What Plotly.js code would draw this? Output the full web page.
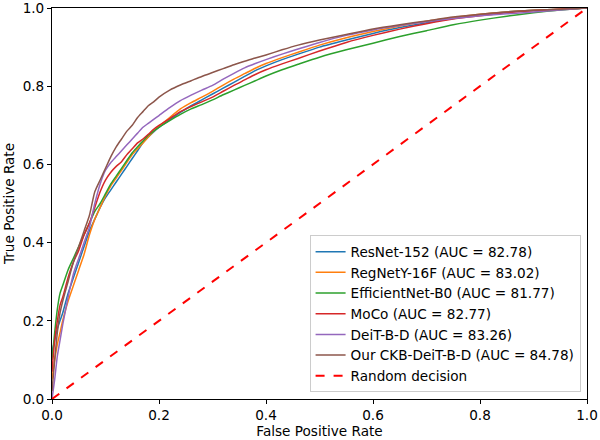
<!DOCTYPE html>
<html>
<head>
<meta charset="utf-8">
<script src="https://cdn.plot.ly/plotly-3.0.1.min.js"></script>
<style>html,body{margin:0;padding:0;background:#fff;}#chart{width:600px;height:440px;}</style>
</head>
<body>
<div id="chart"></div>
<script>
const fpr = [0, 0.005, 0.01, 0.015, 0.02, 0.03, 0.04, 0.05, 0.06, 0.07, 0.08, 0.09, 0.1, 0.11, 0.12, 0.13, 0.14, 0.15, 0.16, 0.17, 0.18, 0.19, 0.2, 0.22, 0.24, 0.26, 0.28, 0.3, 0.32, 0.34, 0.36, 0.38, 0.4, 0.43, 0.46, 0.5, 0.55, 0.6, 0.65, 0.7, 0.75, 0.8, 0.85, 0.9, 0.95, 1.0];

const tprResNet = [0.12, 0.15, 0.18, 0.2, 0.22, 0.27, 0.31, 0.35, 0.39, 0.43, 0.46, 0.49, 0.515, 0.535, 0.555, 0.575, 0.595, 0.615, 0.635, 0.655, 0.67, 0.683, 0.695, 0.714, 0.733, 0.75, 0.765, 0.78, 0.795, 0.81, 0.825, 0.84, 0.852, 0.868, 0.882, 0.9, 0.918, 0.935, 0.95, 0.962, 0.974, 0.983, 0.99, 0.994, 0.997, 1.0];
const tprRegNet = [0.05, 0.1, 0.14, 0.17, 0.2, 0.25, 0.29, 0.33, 0.37, 0.42, 0.46, 0.49, 0.52, 0.545, 0.565, 0.585, 0.605, 0.625, 0.64, 0.655, 0.67, 0.685, 0.697, 0.72, 0.742, 0.758, 0.772, 0.787, 0.803, 0.818, 0.832, 0.846, 0.858, 0.873, 0.887, 0.905, 0.924, 0.94, 0.954, 0.966, 0.976, 0.984, 0.99, 0.994, 0.997, 1.0];
const tprEffNet = [0.1, 0.17, 0.23, 0.27, 0.29, 0.33, 0.36, 0.39, 0.42, 0.45, 0.48, 0.5, 0.525, 0.55, 0.57, 0.59, 0.61, 0.63, 0.645, 0.66, 0.675, 0.685, 0.695, 0.712, 0.728, 0.742, 0.753, 0.765, 0.778, 0.79, 0.802, 0.814, 0.826, 0.842, 0.856, 0.874, 0.893, 0.91, 0.927, 0.942, 0.957, 0.969, 0.979, 0.988, 0.995, 1.0];
const tprMoCo = [0.07, 0.15, 0.2, 0.24, 0.26, 0.31, 0.35, 0.38, 0.42, 0.45, 0.49, 0.53, 0.56, 0.58, 0.595, 0.607, 0.625, 0.64, 0.655, 0.665, 0.677, 0.69, 0.7, 0.717, 0.735, 0.748, 0.76, 0.772, 0.787, 0.802, 0.816, 0.83, 0.842, 0.857, 0.871, 0.89, 0.912, 0.93, 0.946, 0.96, 0.972, 0.98, 0.988, 0.993, 0.997, 1.0];
const tprDeiT = [0.0, 0.05, 0.11, 0.15, 0.19, 0.26, 0.32, 0.36, 0.4, 0.44, 0.5, 0.55, 0.585, 0.605, 0.62, 0.635, 0.65, 0.665, 0.68, 0.695, 0.705, 0.715, 0.725, 0.745, 0.763, 0.777, 0.79, 0.802, 0.818, 0.833, 0.847, 0.858, 0.868, 0.882, 0.895, 0.912, 0.93, 0.944, 0.955, 0.965, 0.973, 0.98, 0.985, 0.99, 0.995, 1.0];
const tprOurs = [0.02, 0.1, 0.17, 0.22, 0.25, 0.3, 0.35, 0.39, 0.43, 0.47, 0.53, 0.56, 0.59, 0.62, 0.645, 0.665, 0.685, 0.7, 0.72, 0.735, 0.75, 0.76, 0.772, 0.79, 0.803, 0.814, 0.825, 0.835, 0.845, 0.855, 0.864, 0.872, 0.88, 0.893, 0.905, 0.918, 0.932, 0.946, 0.957, 0.967, 0.977, 0.984, 0.99, 0.994, 0.997, 1.0];

const diagX = [0, 1];
const diagY = [0, 1];

const names = ["ResNet-152 (AUC = 82.78)", "RegNetY-16F (AUC = 83.02)", "EfficientNet-B0 (AUC = 81.77)", "MoCo (AUC = 82.77)", "DeiT-B-D (AUC = 83.26)", "Our CKB-DeiT-B-D (AUC = 84.78)", "Random decision"];
const series = [tprResNet, tprRegNet, tprEffNet, tprMoCo, tprDeiT, tprOurs];
const colors = ["#1f77b4", "#ff7f0e", "#2ca02c", "#d62728", "#9467bd", "#8c564b"];

const traces = series.map((s, i) => ({
  x: fpr, y: s, type: "scatter", mode: "lines", name: names[i],
  line: {color: colors[i], width: 1.5, shape: "spline", smoothing: 0.6}
}));
traces.push({x: diagX, y: diagY, type: "scatter", mode: "lines", name: names[6],
  line: {color: "#ff0000", width: 2, dash: "dash"}});

const FS = 13.6;
const axisCommon = {
  range: [0, 1], showgrid: false, zeroline: false, showline: true, mirror: true,
  linecolor: "#000", linewidth: 1, ticks: "outside", ticklen: 4, tickcolor: "#000",
  tickformat: ".1f", dtick: 0.2, tick0: 0, ticklabeloverflow: "allow",
  tickfont: {family: "DejaVu Sans", size: FS, color: "#000"}
};

const layout = {
  width: 600, height: 440,
  margin: {l: 52, r: 13, t: 8, b: 41},
  paper_bgcolor: "#fff", plot_bgcolor: "#fff",
  font: {family: "DejaVu Sans", size: FS, color: "#000"},
  xaxis: Object.assign({}, axisCommon, {title: {text: "False Positive Rate", standoff: 3, font: {family: "DejaVu Sans", size: FS}}}),
  yaxis: Object.assign({}, axisCommon, {title: {text: "True Positive Rate", standoff: 4, font: {family: "DejaVu Sans", size: FS}}}),
  legend: {x: 0.988, xanchor: "right", y: 0.017, yanchor: "bottom",
    bgcolor: "rgba(255,255,255,0.8)", bordercolor: "#cccccc", borderwidth: 1,
    itemwidth: 30,
    font: {family: "DejaVu Sans", size: FS, color: "#000"}, tracegroupgap: 0},
  showlegend: true
};

Plotly.newPlot("chart", traces, layout, {displayModeBar: false, staticPlot: true});
</script>
</body>
</html>
